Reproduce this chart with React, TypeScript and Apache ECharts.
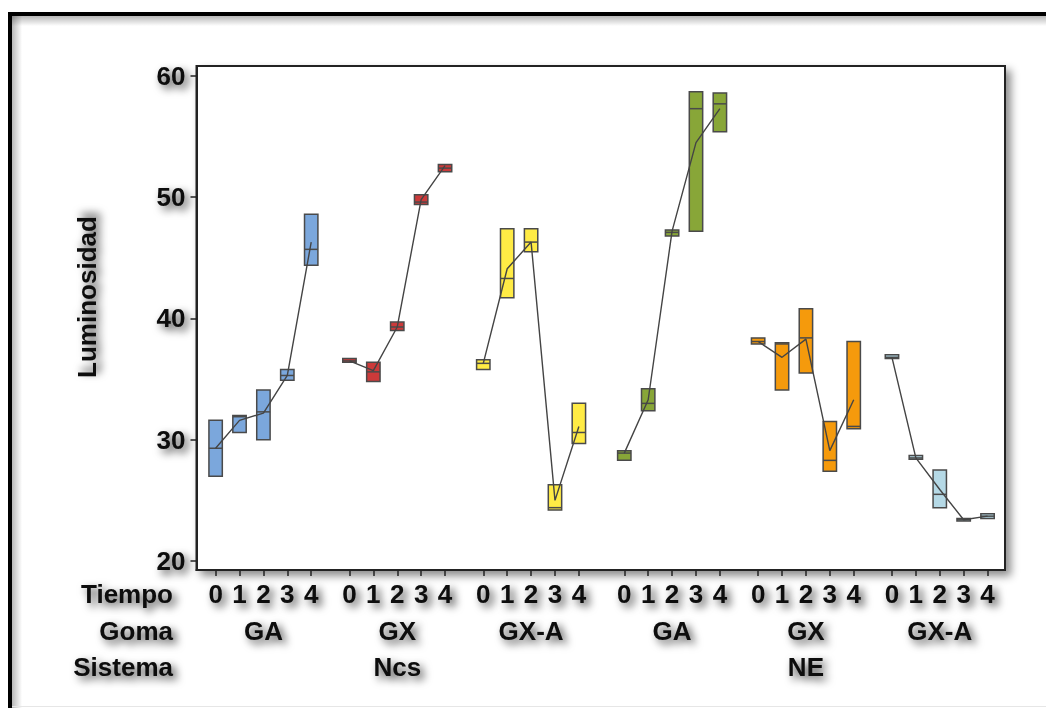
import React, { useEffect, useRef } from "react";
import * as echarts from "echarts";

// Factor levels
const tiempos = ["0", "1", "2", "3", "4"];
const gomas = ["GA", "GX", "GX-A", "GA", "GX", "GX-A"];
const sistemas = ["Ncs", "NE"];
const sistemaDeGoma = [0, 0, 0, 1, 1, 1];
const yTicks = [20, 30, 40, 50, 60];

// Box colour for each goma/sistema group
const colores = ["#7BA7DC", "#CC3A3A", "#FFEB45", "#88A638", "#F59A0C", "#B5D9E6"];

// Luminosidad per group (rows) and tiempo (columns)
const q1 = [
  [27.0, 30.6, 30.0, 34.9, 44.4],
  [36.4, 34.8, 39.0, 49.4, 52.1],
  [35.8, 41.7, 45.5, 24.2, 29.7],
  [28.3, 32.4, 46.8, 47.2, 55.4],
  [37.9, 34.1, 35.5, 27.4, 30.9],
  [36.7, 28.4, 24.4, 23.3, 23.5],
];
const mediana = [
  [29.3, 31.9, 32.3, 35.3, 45.7],
  [36.5, 35.6, 39.3, 49.6, 52.4],
  [36.3, 43.3, 46.3, 24.4, 30.6],
  [28.9, 33.0, 47.1, 57.3, 57.7],
  [38.1, 37.9, 38.4, 28.3, 31.1],
  [36.8, 28.5, 25.5, 23.4, 23.7],
];
const q3 = [
  [31.6, 32.0, 34.1, 35.8, 48.6],
  [36.7, 36.4, 39.7, 50.2, 52.7],
  [36.6, 47.4, 47.4, 26.3, 33.0],
  [29.1, 34.2, 47.3, 58.7, 58.6],
  [38.4, 38.0, 40.8, 31.5, 38.1],
  [37.0, 28.7, 27.5, 23.5, 23.9],
];
const media = [
  [29.3, 31.6, 32.2, 35.3, 46.3],
  [36.5, 35.7, 39.3, 49.8, 52.6],
  [36.3, 44.1, 46.3, 25.0, 31.1],
  [28.9, 33.3, 47.2, 54.5, 57.3],
  [38.1, 36.8, 38.3, 29.1, 33.3],
  [36.8, 28.5, 25.9, 23.4, 23.7],
];

// Horizontal layout of the grouped categories
const GROUP_STEP = 5.6;
const SYSTEM_GAP = 0.3;
const BOX_WIDTH = 0.56;
const posicion = (g: number, t: number) =>
  g * GROUP_STEP + sistemaDeGoma[g] * SYSTEM_GAP + t;

const tickPos: number[] = [];
const tickLabel: string[] = [];
gomas.forEach((_, g) =>
  tiempos.forEach((t, i) => {
    tickPos.push(posicion(g, i));
    tickLabel.push(t);
  })
);
const gomaPos = gomas.map((_, g) => posicion(g, 2));
const sistemaPos = sistemas.map((_, s) => posicion(s * 3 + 1, 2));

const findLabel = (v: number, pos: number[], labels: string[]) => {
  const i = pos.findIndex((p) => Math.abs(p - v) < 1e-6);
  return i >= 0 ? labels[i] : "";
};

const FONT = "'Liberation Sans', Arial, sans-serif";
const shadowText = {
  fontFamily: FONT,
  fontWeight: "bold" as const,
  fontSize: 26,
  color: "#0a0a0a",
  textShadowColor: "rgba(0,0,0,0.75)",
  textShadowBlur: 9,
  textShadowOffsetX: 4,
  textShadowOffsetY: 4,
};

export default function App() {
  const ref = useRef<HTMLDivElement>(null);

  useEffect(() => {
    if (!ref.current) return;
    const chart = echarts.init(ref.current, undefined, { renderer: "svg" });

    const boxData: number[][] = [];
    gomas.forEach((_, g) =>
      tiempos.forEach((__, t) => {
        boxData.push([posicion(g, t), q1[g][t], mediana[g][t], q3[g][t], g]);
      })
    );

    const lineSeries = gomas.map((_, g) => ({
      type: "line",
      xAxisIndex: 0,
      yAxisIndex: 0,
      data: tiempos.map((__, t) => [posicion(g, t), media[g][t]]),
      symbol: "none",
      lineStyle: { color: "#444", width: 1.4 },
      z: 5,
      silent: true,
    }));

    const hiddenAxis = {
      type: "value",
      min: -0.8,
      max: 33.03,
      position: "bottom",
      axisLine: { show: false, onZero: false },
      axisTick: { show: false },
      splitLine: { show: false },
    };

    chart.setOption({
      animation: false,
      backgroundColor: "#fff",
      grid: {
        left: 196.5,
        right: 41,
        top: 66,
        bottom: 138,
        show: true,
        backgroundColor: "#fff",
        borderColor: "#222",
        borderWidth: 2,
        shadowColor: "rgba(0,0,0,0.45)",
        shadowBlur: 9,
        shadowOffsetX: 5,
        shadowOffsetY: 5,
      },
      xAxis: [
        {
          type: "value",
          min: -0.8,
          max: 33.03,
          position: "bottom",
          axisLine: { show: true, onZero: false, lineStyle: { color: "#222", width: 2 } },
          axisTick: {
            show: true,
            length: 6,
            customValues: tickPos,
            lineStyle: { color: "#222", width: 1.5 },
          },
          axisLabel: {
            ...shadowText,
            margin: 11,
            customValues: tickPos,
            formatter: (v: number) => findLabel(v, tickPos, tickLabel),
          },
          splitLine: { show: false },
        },
        {
          ...hiddenAxis,
          axisLabel: {
            ...shadowText,
            margin: 48,
            customValues: gomaPos,
            formatter: (v: number) => findLabel(v, gomaPos, gomas),
          },
        },
        {
          ...hiddenAxis,
          axisLabel: {
            ...shadowText,
            margin: 84,
            customValues: sistemaPos,
            formatter: (v: number) => findLabel(v, sistemaPos, sistemas),
          },
        },
      ],
      yAxis: {
        type: "value",
        min: 19.26,
        max: 60.82,
        axisLine: { show: true, onZero: false, lineStyle: { color: "#222", width: 2 } },
        axisTick: {
          show: true,
          length: 6,
          customValues: yTicks,
          lineStyle: { color: "#222", width: 1.5 },
        },
        axisLabel: {
          ...shadowText,
          margin: 11,
          customValues: yTicks,
          formatter: (v: number) => String(v),
        },
        splitLine: { show: false },
      },
      graphic: [
        // page frame
        {
          type: "rect",
          shape: { x: 12, y: 16, width: 1040, height: 10 },
          style: {
            fill: new echarts.graphic.LinearGradient(0, 0, 0, 1, [
              { offset: 0, color: "rgba(0,0,0,0.28)" },
              { offset: 1, color: "rgba(0,0,0,0)" },
            ]),
          },
          silent: true,
        },
        {
          type: "rect",
          shape: { x: 12, y: 16, width: 10, height: 700 },
          style: {
            fill: new echarts.graphic.LinearGradient(0, 0, 1, 0, [
              { offset: 0, color: "rgba(0,0,0,0.28)" },
              { offset: 1, color: "rgba(0,0,0,0)" },
            ]),
          },
          silent: true,
        },
        {
          type: "rect",
          shape: { x: 8, y: 12, width: 1050, height: 4 },
          style: { fill: "#000" },
          silent: true,
        },
        {
          type: "rect",
          shape: { x: 8, y: 12, width: 4, height: 700 },
          style: { fill: "#000" },
          silent: true,
        },
        {
          type: "rect",
          shape: { x: 12, y: 706, width: 1040, height: 1 },
          style: { fill: "#e6e6e6" },
          silent: true,
        },
        // axis titles
        {
          type: "text",
          x: 87,
          y: 297,
          rotation: Math.PI / 2,
          style: { ...shadowText, fill: "#0a0a0a", text: "Luminosidad", align: "center", verticalAlign: "middle" },
          silent: true,
        },
        ...["Tiempo", "Goma", "Sistema"].map((label, i) => ({
          type: "text",
          x: 173,
          y: [594, 631, 667][i],
          style: { ...shadowText, fill: "#0a0a0a", text: label, align: "right", verticalAlign: "middle" },
          silent: true,
        })),
      ],
      series: [
        {
          type: "custom",
          xAxisIndex: 0,
          yAxisIndex: 0,
          data: boxData,
          z: 3,
          silent: true,
          renderItem: (params: any, api: any) => {
            const x = api.value(0);
            const lo = api.coord([x, api.value(1)]);
            const md = api.coord([x, api.value(2)]);
            const hi = api.coord([x, api.value(3)]);
            const w = api.size([BOX_WIDTH, 0])[0];
            const stroke = "#4a4a4a";
            return {
              type: "group",
              children: [
                {
                  type: "rect",
                  shape: { x: lo[0] - w / 2, y: hi[1], width: w, height: lo[1] - hi[1] },
                  style: { fill: colores[api.value(4)], stroke, lineWidth: 1.5 },
                },
                {
                  type: "line",
                  shape: { x1: lo[0] - w / 2, y1: md[1], x2: lo[0] + w / 2, y2: md[1] },
                  style: { stroke, lineWidth: 1.5 },
                },
              ],
            };
          },
        },
        ...lineSeries,
      ],
    });

    return () => chart.dispose();
  }, []);

  return (
    <div
      ref={ref}
      style={{ position: "fixed", left: 0, top: 0, width: 1046, height: 708, background: "#fff" }}
    />
  );
}
